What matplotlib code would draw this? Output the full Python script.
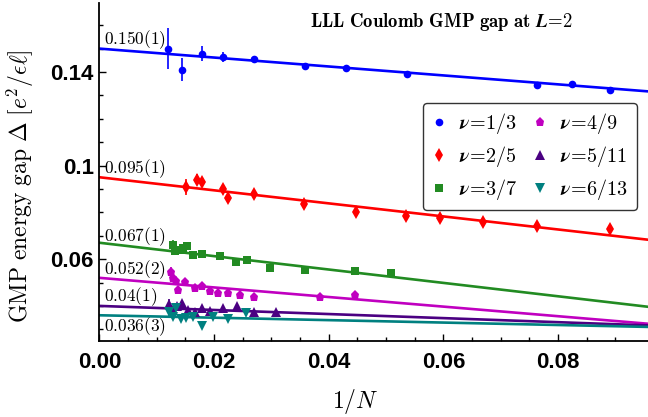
import numpy as np
import matplotlib
matplotlib.use("Agg")
import matplotlib.pyplot as plt

plt.rcParams['mathtext.fontset'] = 'cm'

# --- data (x = 1/N, y = gap) ---
x13 = [0.01202, 0.01446, 0.01796, 0.02157, 0.02693, 0.0359, 0.0430, 0.0536, 0.0764, 0.0824, 0.0890]
y13 = [0.1500, 0.1410, 0.1478, 0.1464, 0.1457, 0.1427, 0.1417, 0.1391, 0.1344, 0.1349, 0.1324]
e13 = [0.0089, 0.0048, 0.0033, 0.0020, 0.0010, 0, 0, 0, 0, 0, 0]

x25 = [0.01506, 0.01698, 0.01796, 0.02152, 0.02245, 0.02693, 0.03572, 0.04468, 0.05354, 0.05948, 0.06687, 0.07637, 0.08905]
y25 = [0.0909, 0.0940, 0.0928, 0.0900, 0.0862, 0.0877, 0.0836, 0.0802, 0.0783, 0.0776, 0.0757, 0.0743, 0.0730]
e25 = [0.0034, 0.0024, 0.0015, 0.0022, 0.0015, 0.0010, 0, 0, 0, 0, 0, 0, 0]

x37 = [0.01289, 0.01319, 0.01406, 0.01464, 0.01523, 0.01638, 0.01796, 0.0211, 0.0239, 0.02571, 0.02978, 0.03577, 0.04463, 0.05092]
y37 = [0.0662, 0.0633, 0.0638, 0.0648, 0.0655, 0.0617, 0.0624, 0.0615, 0.0586, 0.0598, 0.0562, 0.0555, 0.0551, 0.0541]
e37 = [0.0018, 0.0015, 0.0010, 0.0010, 0.0010, 0.0008, 0.0008, 0.0005, 0, 0, 0, 0, 0, 0]

x49 = [0.01249, 0.01289, 0.01328, 0.01366, 0.01493, 0.01668, 0.01796, 0.0193, 0.02075, 0.0225, 0.02454, 0.0269, 0.03839, 0.04466]
y49 = [0.0544, 0.0519, 0.0508, 0.0470, 0.0504, 0.0477, 0.0484, 0.0462, 0.0456, 0.0456, 0.0448, 0.0439, 0.0439, 0.0446]
e49 = [0.0022, 0.0015, 0.0010, 0.0012, 0.0010, 0.0008, 0.0008, 0.0006, 0.0006, 0.0005, 0.0005, 0.0005, 0, 0]

x511 = [0.01214, 0.01284, 0.01354, 0.01441, 0.01551, 0.01668, 0.01796, 0.01921, 0.02148, 0.02397, 0.0269, 0.03074]
y511 = [0.0410, 0.0384, 0.0401, 0.0412, 0.0382, 0.0376, 0.0391, 0.0380, 0.0391, 0.0401, 0.0376, 0.0374]
e511 = [0.0018, 0.0012, 0.0012, 0.0010, 0.0010, 0.0008, 0.0008, 0.0008, 0.0006, 0.0006, 0.0005, 0]

x613 = [0.01214, 0.01275, 0.01336, 0.01424, 0.01511, 0.01638, 0.01796, 0.01988, 0.0225, 0.02559]
y613 = [0.0376, 0.0354, 0.0389, 0.0344, 0.0348, 0.0354, 0.0316, 0.0354, 0.0342, 0.0370]
e613 = [0.0018, 0.0015, 0.0012, 0.0012, 0.0010, 0.0010, 0.0009, 0.0008, 0.0007, 0.0006]

# linear fits: intercept (thermodynamic gap) and slope
intercepts = [0.150, 0.095, 0.067, 0.052, 0.040, 0.036]
slopes = [-0.191, -0.279, -0.286, -0.205, -0.087, -0.052]
fit_labels = ["0.150(1)", "0.095(1)", "0.067(1)", "0.052(2)", "0.04(1)", "0.036(3)"]
label_y = [0.1538, 0.0985, 0.0698, 0.0553, 0.0441, 0.0312]

nu_labels = ["1/3", "2/5", "3/7", "4/9", "5/11", "6/13"]
colors = ['#0000ff', '#ff0000', '#228b22', '#c000c0', '#4b0082', '#008080']
markers = ['o', 'd', 's', 'p', '^', 'v']
msizes = [5.5, 7.0, 5.5, 6.5, 6.5, 6.5]

xs = [x13, x25, x37, x49, x511, x613]
ys = [y13, y25, y37, y49, y511, y613]
es = [e13, e25, e37, e49, e511, e613]

XMAX = 0.0957

fig = plt.figure(figsize=(6.48, 4.17), dpi=100)
ax = fig.add_axes([99.5 / 648, 76 / 417, 548.5 / 648, 338 / 417])

xfit = np.array([0.0, XMAX])
for i in range(6):
    ax.plot(xfit, intercepts[i] + slopes[i] * xfit, color=colors[i], lw=1.9, zorder=2)

handles = []
for i in range(6):
    h = ax.errorbar(xs[i], ys[i], yerr=es[i], fmt=markers[i], color=colors[i],
                    ms=msizes[i], mew=0, elinewidth=1.2, capsize=2.5, capthick=1.2, zorder=3)
    handles.append(h[0])

for i in range(6):
    ax.text(0.0008, label_y[i], r'$\mathbf{' + fit_labels[i] + '}$', fontsize=12.5,
            ha='left', va='center', zorder=4)

ax.text(0.0597, 0.1615, r'$\mathbf{LLL\ Coulomb\ GMP\ gap\ at\ }\boldsymbol{L}\!\mathbf{=}\!\mathbf{2}$',
        fontsize=13.5, ha='center', va='center')

labels = [r'$\boldsymbol{\nu}\!\mathbf{=}\!\mathbf{' + s + '}$' for s in nu_labels]
leg = ax.legend(handles, labels, ncol=2, loc='upper left', bbox_to_anchor=(0.590, 0.704),
                borderaxespad=0, fontsize=14.5, frameon=True, fancybox=True,
                handletextpad=0.6, columnspacing=0.7, labelspacing=0.4,
                handlelength=0.8, borderpad=0.4, markerscale=1.0)
leg.get_frame().set_edgecolor('#333333')
leg.get_frame().set_linewidth(1.0)
leg.get_frame().set_alpha(1.0)

ax.set_xticks([0.0, 0.02, 0.04, 0.06, 0.08])
ax.set_xticklabels(["0.00", "0.02", "0.04", "0.06", "0.08"])
ax.set_xticks(np.arange(0.005, 0.095, 0.005), minor=True)
ax.set_yticks([0.06, 0.10, 0.14])
ax.set_yticklabels(["0.06", "0.1", "0.14"])
ax.set_yticks(np.arange(0.03, 0.17, 0.01), minor=True)
ax.set_xlim(0, XMAX)
ax.set_ylim(0.025, 0.1695)

for lab in ax.get_xticklabels() + ax.get_yticklabels():
    lab.set_fontfamily('Liberation Sans')
    lab.set_fontweight('bold')
    lab.set_fontsize(16)

ax.tick_params(which='both', direction='in', width=1.0)
ax.tick_params(which='major', length=5)
ax.tick_params(which='minor', length=3)
ax.tick_params(axis='x', pad=8)
ax.tick_params(axis='y', pad=4)

ax.spines['top'].set_visible(False)
ax.spines['right'].set_visible(False)
ax.spines['left'].set_linewidth(1.3)
ax.spines['bottom'].set_linewidth(1.3)

fig.text(355 / 648, 1 - 402 / 417, r'$1/N$', fontsize=17, ha='center', va='center')
fig.text(20 / 648, 1 - 186.5 / 417, r'$\mathrm{GMP\ energy\ gap}\ \Delta\ [e^2/\epsilon\ell]$',
         fontsize=17, rotation=90, ha='center', va='center')

fig.savefig("out.png", dpi=100)
